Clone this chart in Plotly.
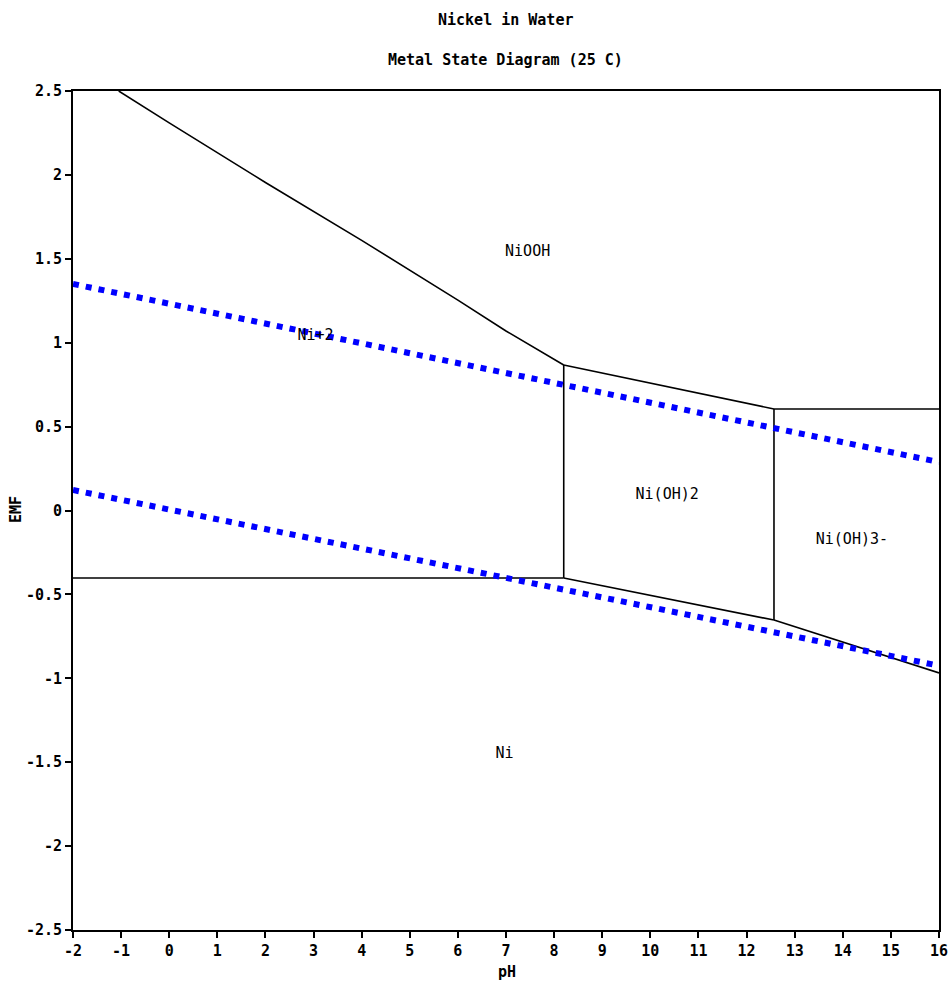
import plotly.graph_objects as go

# --- data ---
water_ph = [-2, 16]
o2_line_emf = [1.35, 0.289]
h2_line_emf = [0.122, -0.925]

ni_ni2_ph = [-2, 8.2]
ni_ni2_emf = [-0.402, -0.402]

ni2_nioh2_ph = [8.2, 8.2]
ni2_nioh2_emf = [-0.402, 0.867]

ni2_niooh_ph = [-1.05, 0, 2, 4, 6, 7, 8.2]
ni2_niooh_emf = [2.5, 2.31, 1.955, 1.61, 1.254, 1.07, 0.867]

nioh2_niooh_ph = [8.2, 12.57]
nioh2_niooh_emf = [0.867, 0.605]

nioh2_nioh3_ph = [12.57, 12.57]
nioh2_nioh3_emf = [0.605, -0.653]

niooh_nioh3_ph = [12.57, 16]
niooh_nioh3_emf = [0.605, 0.605]

ni_nioh2_ph = [8.2, 12.57]
ni_nioh2_emf = [-0.402, -0.653]

ni_nioh3_ph = [12.57, 16]
ni_nioh3_emf = [-0.653, -0.968]

region_labels = ["NiOOH", "Ni+2", "Ni(OH)2", "Ni(OH)3-", "Ni"]
region_ph = [7.45, 3.04, 10.35, 14.19, 6.97]
region_emf = [1.54, 1.04, 0.093, -0.18, -1.45]

x_ticks = list(range(-2, 17))
y_ticks = [-2.5, -2, -1.5, -1, -0.5, 0, 0.5, 1, 1.5, 2, 2.5]

FONT = "DejaVu Sans Mono"

fig = go.Figure()

black = dict(color="black", width=1.6)
for xs, ys in [
    (ni_ni2_ph, ni_ni2_emf),
    (ni2_nioh2_ph, ni2_nioh2_emf),
    (ni2_niooh_ph, ni2_niooh_emf),
    (nioh2_niooh_ph, nioh2_niooh_emf),
    (nioh2_nioh3_ph, nioh2_nioh3_emf),
    (niooh_nioh3_ph, niooh_nioh3_emf),
    (ni_nioh2_ph, ni_nioh2_emf),
    (ni_nioh3_ph, ni_nioh3_emf),
]:
    fig.add_trace(go.Scatter(x=xs, y=ys, mode="lines", line=black,
                             showlegend=False, hoverinfo="skip"))

for ys in [o2_line_emf, h2_line_emf]:
    fig.add_trace(go.Scatter(x=water_ph, y=ys, mode="lines",
                             line=dict(color="#0000FF", width=6, dash="6px,7px"),
                             showlegend=False, hoverinfo="skip"))

fig.add_trace(go.Scatter(x=region_ph, y=region_emf, mode="text", text=region_labels,
                         textfont=dict(family=FONT, size=15, color="black"),
                         showlegend=False, hoverinfo="skip"))

PLOT_W = 867
PLOT_H = 839


def ann(text, sx, sy, angle=0):
    return dict(text=text, x=(sx - 73) / PLOT_W, y=(930 - sy) / PLOT_H, xref="paper", yref="paper",
                xanchor="center", yanchor="middle", showarrow=False, textangle=angle,
                font=dict(family=FONT, size=15))


fig.update_layout(
    width=948, height=982,
    margin=dict(l=73, r=0, t=91, b=52),
    paper_bgcolor="white", plot_bgcolor="white",
    font=dict(family=FONT, size=15, color="black"),
    annotations=[
        ann("<b>Nickel in Water</b>", 506, 20),
        ann("<b>Metal State Diagram (25 C)</b>", 506, 60),
        ann("<b>pH</b>", 508, 972),
        ann("<b>EMF</b>", 16, 510, -90),
    ],
)
fig.update_xaxes(range=[-2, 16], tickvals=x_ticks, ticktext=[str(v) for v in x_ticks],
                 showgrid=False, zeroline=False, showline=True, linecolor="black", linewidth=2,
                 mirror=True, ticks="outside", ticklen=6, tickwidth=2, tickcolor="black",
                 ticklabeloverflow="allow",
                 tickfont=dict(family=FONT, size=15, weight="bold"))
fig.update_yaxes(range=[-2.5, 2.5], tickvals=y_ticks, ticktext=[f"{v:g}" for v in y_ticks],
                 showgrid=False, zeroline=False, showline=True, linecolor="black", linewidth=2,
                 mirror=True, ticks="outside", ticklen=6, tickwidth=2, tickcolor="black",
                 tickfont=dict(family=FONT, size=15, weight="bold"))

fig.write_html("out.html",
               config={"responsive": False, "displayModeBar": False},
               post_script="document.body.style.margin='0';document.body.style.overflow='hidden';")
